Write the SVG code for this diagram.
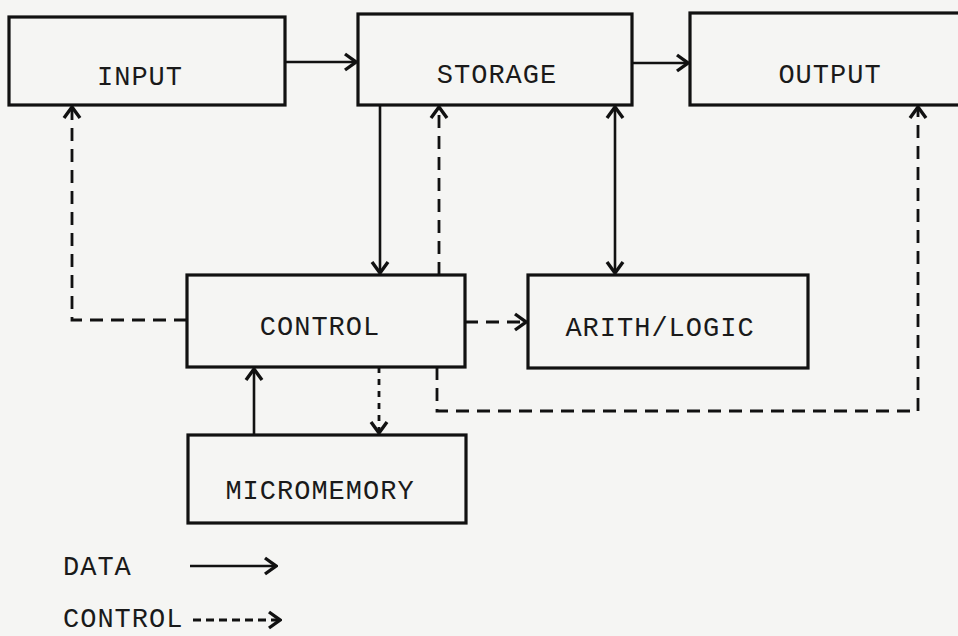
<svg xmlns="http://www.w3.org/2000/svg" width="958" height="636" viewBox="0 0 958 636">
<defs>
<style>
.box{fill:none;stroke:#111;stroke-width:3.2}
.lbl{font-family:"Liberation Mono","DejaVu Sans Mono",monospace;font-size:27px;fill:#1a1a1a;letter-spacing:1px}
.data{fill:none;stroke:#111;stroke-width:2.6}
.ctl{fill:none;stroke:#111;stroke-width:2.8;stroke-dasharray:13 8}
.dot{fill:none;stroke:#111;stroke-width:2.8;stroke-dasharray:6 6}
</style>
<marker id="ah" viewBox="-13 -10 15 20" refX="0" refY="0" markerWidth="15" markerHeight="20" markerUnits="userSpaceOnUse" orient="auto-start-reverse">
<path d="M-11,-8 L0,0 L-11,8" fill="none" stroke="#111" stroke-width="3.4" stroke-linejoin="miter"/>
</marker>
</defs>
<rect width="958" height="636" fill="#f5f5f3"/>
<g id="input"><rect class="box" x="9" y="17" width="276" height="88"/><text class="lbl" x="140" y="85" text-anchor="middle">INPUT</text></g>
<g id="storage"><rect class="box" x="358" y="14" width="274" height="91"/><text class="lbl" x="497" y="83" text-anchor="middle">STORAGE</text></g>
<g id="output"><rect class="box" x="690" y="13" width="270" height="92"/><text class="lbl" x="830" y="83" text-anchor="middle">OUTPUT</text></g>
<g id="control"><rect class="box" x="187" y="275" width="278" height="92"/><text class="lbl" x="320" y="335" text-anchor="middle">CONTROL</text></g>
<g id="arith"><rect class="box" x="528" y="275" width="280" height="93"/><text class="lbl" x="660" y="336" text-anchor="middle">ARITH/LOGIC</text></g>
<g id="micromemory"><rect class="box" x="188" y="435" width="278" height="88"/><text class="lbl" x="320" y="499" text-anchor="middle">MICROMEMORY</text></g>
<g id="connectors">
<line class="data" x1="285" y1="62" x2="356" y2="62" marker-end="url(#ah)"/>
<line class="data" x1="632" y1="63" x2="688" y2="63" marker-end="url(#ah)"/>
<line class="data" x1="380" y1="105" x2="380" y2="273" marker-end="url(#ah)"/>
<line class="data" x1="615" y1="107" x2="615" y2="273" marker-start="url(#ah)" marker-end="url(#ah)"/>
<line class="data" x1="254" y1="435" x2="254" y2="369" marker-end="url(#ah)"/>
<line class="ctl" x1="439" y1="275" x2="439" y2="107" marker-end="url(#ah)"/>
<polyline class="ctl" points="187,320 72,320 72,107" marker-end="url(#ah)"/>
<line class="ctl" x1="465" y1="322" x2="526" y2="322" marker-end="url(#ah)"/>
<line class="dot" x1="379" y1="367" x2="379" y2="433" marker-end="url(#ah)"/>
<polyline class="ctl" points="437,367 437,411 918,411 918,107" marker-end="url(#ah)"/>
</g>
<g id="legend">
<text class="lbl" x="63" y="575">DATA</text>
<line class="data" x1="190" y1="566" x2="276" y2="566" marker-end="url(#ah)"/>
<text class="lbl" x="63" y="627">CONTROL</text>
<line class="ctl" x1="193" y1="620" x2="280" y2="620" style="stroke-dasharray:8 5" marker-end="url(#ah)"/>
</g>
</svg>
